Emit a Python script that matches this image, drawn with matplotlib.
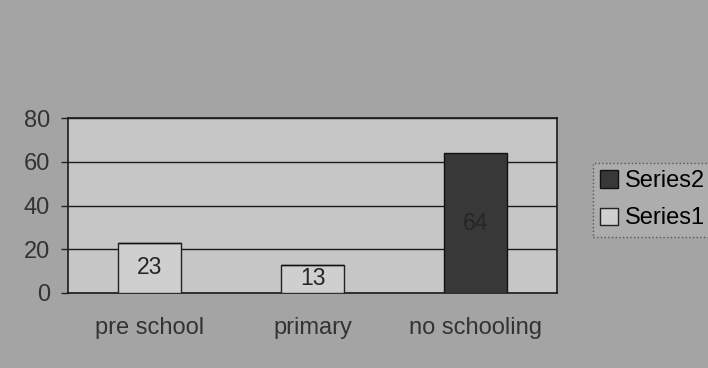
import matplotlib.pyplot as plt
import numpy as np

plt.rcParams['font.family'] = ['Liberation Sans', 'DejaVu Sans']

# ── data ─────────────────────────────────────────────────────────────────────
categories = ["pre school", "primary", "no schooling"]
series1 = [23, 13, 0]
series2 = [0, 0, 64]
yticks = [0, 20, 40, 60, 80]

# ── figure ───────────────────────────────────────────────────────────────────
fig = plt.figure(figsize=(7.08, 3.68), dpi=100, facecolor="#a4a4a4")
ax = fig.add_axes([0.096, 0.204, 0.691, 0.475])
ax.set_facecolor("#c6c6c6")

x = np.arange(len(categories))
width = 0.39
b1 = ax.bar(x, series1, width, color="#cfcfcf", edgecolor="#222222",
            linewidth=1.0, label="Series1", zorder=3)
b2 = ax.bar(x, series2, width, bottom=series1, color="#383838",
            edgecolor="#111111", linewidth=1.0, label="Series2", zorder=3)

for bars, vals, base in [(b1, series1, [0, 0, 0]), (b2, series2, series1)]:
    for r, v, b in zip(bars, vals, base):
        if v == 0:
            continue
        ax.text(r.get_x() + r.get_width() / 2, b + v / 2, str(v),
                ha="center", va="center", fontsize=16.5, color="#262626",
                zorder=4)

ax.set_xlim(-0.5, len(categories) - 0.5)
ax.set_ylim(0, 80)
ax.set_yticks(yticks)
ax.set_xticks(x)
ax.set_xticklabels(categories)
ax.yaxis.grid(True, color="#1a1a1a", linewidth=1.0, zorder=1)
ax.tick_params(axis="y", length=5, width=1, pad=8, labelsize=17,
               labelcolor="#333333", color="#222222")
ax.tick_params(axis="x", length=0, pad=17, labelsize=17, labelcolor="#333333")
for s in ax.spines.values():
    s.set_color("#1a1a1a")
    s.set_linewidth(1.2)

handles = [b2, b1]
leg = fig.legend(handles, ["Series2", "Series1"], loc="upper left",
                 bbox_to_anchor=(0.838, 0.557), frameon=True, fontsize=17,
                 handlelength=0.75, handleheight=0.75, handletextpad=0.3,
                 labelspacing=0.65, borderpad=0.3, borderaxespad=0,
                 fancybox=False)
leg.get_frame().set_facecolor("#b0b0b0")
leg.get_frame().set_edgecolor("#444444")
leg.get_frame().set_linestyle(":")

fig.savefig("out.png", dpi=100, facecolor=fig.get_facecolor())
